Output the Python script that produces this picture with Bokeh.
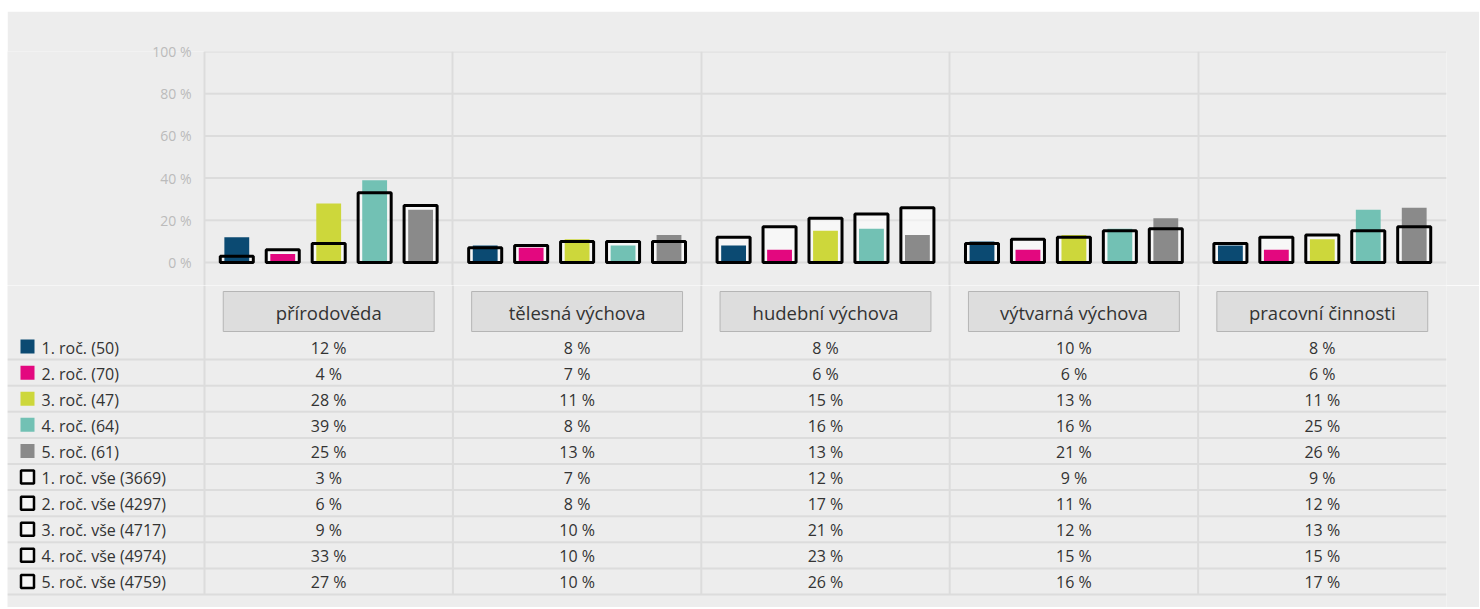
from bokeh.plotting import figure
from bokeh.models import Range1d, FixedTicker, PrintfTickFormatter, Spacer, Grid
from bokeh.layouts import column, row
from bokeh.core.properties import value
from bokeh.embed import file_html
from bokeh.resources import INLINE

categories = ["přírodověda", "tělesná výchova", "hudební výchova", "výtvarná výchova", "pracovní činnosti"]
series_names = ["1. roč. (50)", "2. roč. (70)", "3. roč. (47)", "4. roč. (64)", "5. roč. (61)"]
all_names = ["1. roč. vše (3669)", "2. roč. vše (4297)", "3. roč. vše (4717)", "4. roč. vše (4974)", "5. roč. vše (4759)"]
r1 = [12, 8, 8, 10, 8]
r2 = [4, 7, 6, 6, 6]
r3 = [28, 11, 15, 13, 11]
r4 = [39, 8, 16, 16, 25]
r5 = [25, 13, 13, 21, 26]
a1 = [3, 7, 12, 9, 9]
a2 = [6, 8, 17, 11, 12]
a3 = [9, 10, 21, 12, 13]
a4 = [33, 10, 23, 15, 15]
a5 = [27, 10, 26, 16, 17]
y_ticks = [0, 20, 40, 60, 80, 100]
colors = ["#0b4a72", "#e3087f", "#cdd73b", "#72c1b4", "#8a8a8a"]

filled = [r1, r2, r3, r4, r5]
outlined = [a1, a2, a3, a4, a5]

BG = "#ededed"
GRID = "#dcdcdc"
FONT = "Open Sans"
PX_UNIT = 248.4
W = 1472
x_start = -197 / PX_UNIT
x_end = 5

# ---------------- chart ----------------
pA = figure(width=W, height=274, x_range=Range1d(x_start, x_end), y_range=Range1d(-10.9, 100),
            output_backend="svg", toolbar_location=None, x_axis_location=None,
            min_border_left=0, min_border_right=33, min_border_top=40, min_border_bottom=0,
            background_fill_color=BG, border_fill_color=BG, outline_line_color=None)
pA.yaxis.ticker = FixedTicker(ticks=y_ticks)
pA.yaxis.formatter = PrintfTickFormatter(format="%d %%")
pA.yaxis.axis_line_color = None
pA.yaxis.major_tick_line_color = None
pA.yaxis.minor_tick_line_color = None
pA.yaxis.major_tick_out = 0
pA.yaxis.major_label_standoff = -184
pA.yaxis.major_label_text_font = FONT
pA.yaxis.major_label_text_font_size = "14px"
pA.yaxis.major_label_text_color = "#bbbbbb"
pA.ygrid.visible = False
pA.add_layout(Grid(dimension=0, ticker=FixedTicker(ticks=[0, 1, 2, 3, 4]),
                   grid_line_color=GRID, grid_line_width=2))
pA.segment(x0=[0] * len(y_ticks), y0=y_ticks, x1=[5] * len(y_ticks), y1=y_ticks,
           line_color=GRID, line_width=2, level="underlay")

offsets = [-0.37, -0.185, 0.0, 0.185, 0.37]
centers = [i + 0.5 for i in range(len(categories))]

for k in range(5):
    xs = [c + offsets[k] for c in centers]
    pA.vbar(x=xs, width=0.133, top=outlined[k], bottom=0,
            fill_color="white", fill_alpha=0.55, line_color=None)
for k in range(5):
    xs = [c + offsets[k] for c in centers]
    pA.vbar(x=xs, width=0.1, top=filled[k], bottom=0, fill_color=colors[k], line_color=None)
for k in range(5):
    xs = [c + offsets[k] for c in centers]
    pA.vbar(x=xs, width=0.133, top=outlined[k], bottom=0,
            fill_color=None, line_color="black", line_width=3)

# ---------------- table ----------------
H = 322
pB = figure(width=W, height=H, x_range=Range1d(x_start, x_end), y_range=Range1d(H, 0),
            output_backend="svg", toolbar_location=None, x_axis_location=None, y_axis_location=None,
            min_border_left=0, min_border_right=33, min_border_top=0, min_border_bottom=0,
            background_fill_color=BG, border_fill_color=BG, outline_line_color=None)
pB.grid.visible = False

ROW0 = 48
ROWH = 26.1
n_rows = 10

# vertical separators
pB.segment(x0=[0, 1, 2, 3, 4], y0=[0] * 5, x1=[0, 1, 2, 3, 4], y1=[ROW0 + ROWH * n_rows] * 5,
           line_color=GRID, line_width=2)
# row separators
ys_line = [ROW0 + ROWH * (i + 1) for i in range(n_rows)]
pB.segment(x0=[x_start] * n_rows, y0=ys_line, x1=[5] * n_rows, y1=ys_line,
           line_color=GRID, line_width=2)

# category label boxes
pB.rect(x=centers, y=[26] * 5, width=0.849, height=40, fill_color="#dddddd",
        line_color="#b5b5b5", line_width=1)
pB.text(x=centers, y=[27] * 5, text=categories, text_align="center", text_baseline="middle",
        text_font=value(FONT), text_font_size="18.5px", text_color="#333333")

# values
all_series = filled + outlined
all_labels = series_names + all_names
row_y = [ROW0 + ROWH * i + ROWH / 2 for i in range(n_rows)]
vx, vy, vt = [], [], []
for i, vals in enumerate(all_series):
    for j, v in enumerate(vals):
        vx.append(centers[j])
        vy.append(row_y[i] + 1)
        vt.append(f"{v} %")
pB.text(x=vx, y=vy, text=vt, text_align="center", text_baseline="middle",
        text_font=value(FONT), text_font_size="16px", text_color="#333333")

# legend column
sq_x = x_start + 20 / PX_UNIT
pB.rect(x=[sq_x] * 5, y=row_y[:5], width=14, height=14, width_units="screen", height_units="screen",
        fill_color=colors, line_color=None)
pB.rect(x=[sq_x] * 5, y=row_y[5:], width=13, height=13, width_units="screen", height_units="screen",
        fill_color="white", fill_alpha=0.5, line_color="black", line_width=2.5)
pB.text(x=[x_start] * n_rows, y=[y + 1 for y in row_y], text=all_labels, x_offset=34,
        text_align="left", text_baseline="middle",
        text_font=value(FONT), text_font_size="16px", text_color="#333333")

layout = row(Spacer(width=7, height=10), column(Spacer(height=11, width=W), pA, pB))
open("out.html", "w").write(file_html(layout, INLINE))
